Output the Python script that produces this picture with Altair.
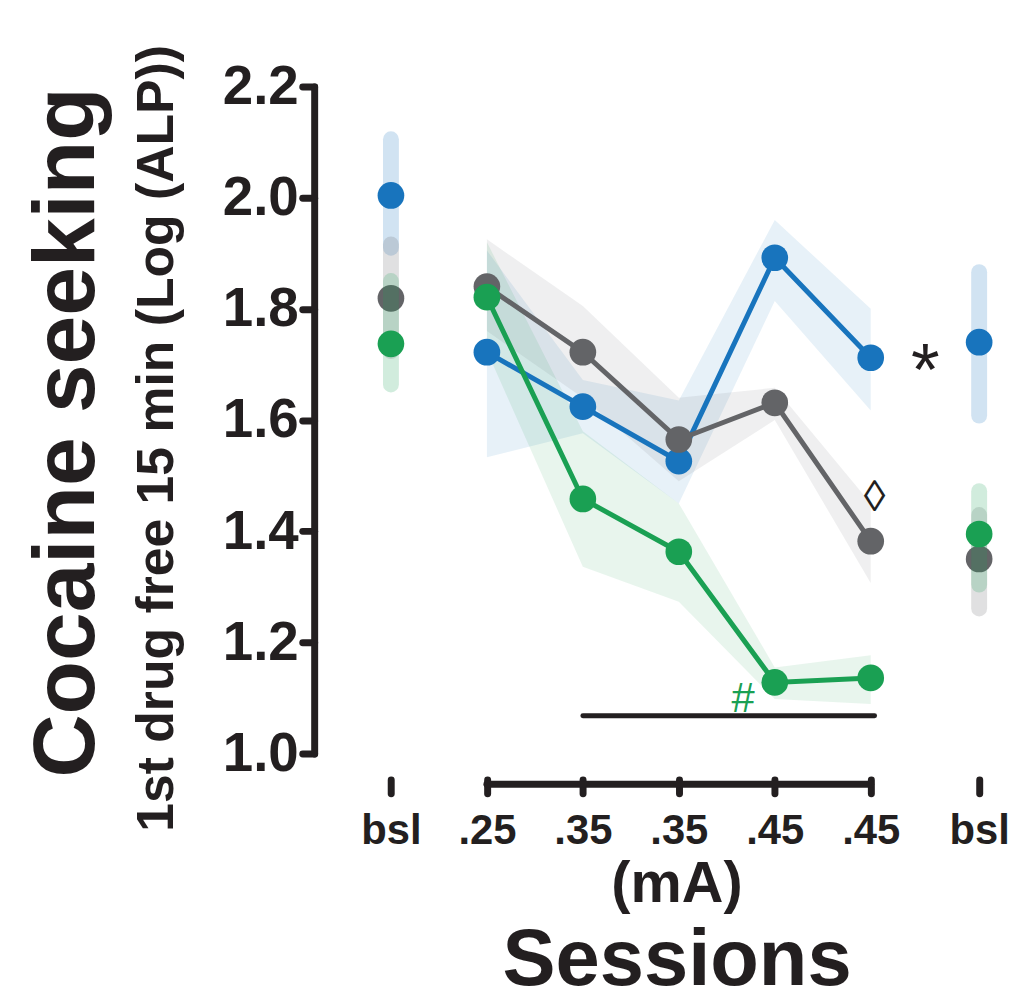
import json
import altair as alt
import pandas as pd

# ---------------- data ----------------
groups = ["blue", "gray", "green"]
line_colors = ["#1874bd", "#636467", "#1aa053"]

session_x = [1, 2, 3, 4, 5]
blue_mean = [1.722, 1.624, 1.526, 1.892, 1.712]
blue_lo = [1.533, 1.576, 1.450, 1.814, 1.617]
blue_hi = [1.905, 1.672, 1.635, 1.960, 1.800]

gray_mean = [1.840, 1.722, 1.565, 1.631, 1.382]
gray_lo = [1.760, 1.640, 1.490, 1.600, 1.307]
gray_hi = [1.925, 1.805, 1.640, 1.658, 1.450]

green_mean = [1.821, 1.458, 1.363, 1.128, 1.136]
green_lo = [1.724, 1.336, 1.273, 1.098, 1.089]
green_hi = [1.920, 1.580, 1.450, 1.155, 1.177]

bsl_x = [0, 6.13]
blue_bsl_mean = [2.004, 1.740]
blue_bsl_lo = [1.910, 1.608]
blue_bsl_hi = [2.105, 1.866]
gray_bsl_mean = [1.819, 1.350]
gray_bsl_lo = [1.724, 1.261]
gray_bsl_hi = [1.916, 1.429]
green_bsl_mean = [1.737, 1.395]
green_bsl_lo = [1.664, 1.304]
green_bsl_hi = [1.850, 1.472]

tick_values = [0, 1, 2, 3, 4, 5, 6.13]
tick_labels = ["bsl", ".25", ".35", ".35", ".45", ".45", "bsl"]
y_ticks = [1.0, 1.2, 1.4, 1.6, 1.8, 2.0, 2.2]

sig_x = [2]
sig_x2 = [5.04]
sig_y = [1.068]

annot_text = ["*", "\u25ca", "#"]
annot_x = [5.57, 5.04, 3.67]
annot_y = [1.684, 1.459, 1.098]
annot_color = ["#231f20", "#231f20", "#1aa053"]
annot_size = [74, 44, 42]

y_title = "Cocaine seeking"
y_subtitle = "1st drug free 15 min (Log (ALP))"
x_title = "Sessions"
x_subtitle = "(mA)"

# ---------------- scales / axes ----------------
FONT = "Liberation Sans"
INK = "#231f20"
W, H = 695, 671

label_expr = "{}[indexof({}, datum.value)]".format(json.dumps(tick_labels), json.dumps(tick_values))

x_axis = alt.Axis(values=tick_values, labelExpr=label_expr, domain=False, grid=False,
                  ticks=True, tickSize=14, tickWidth=7, tickColor=INK, tickCap="round",
                  offset=26, labelFont=FONT, labelFontSize=42, labelFontWeight="bold",
                  labelColor=INK, labelPadding=18, labelFlush=False, labelOverlap=False,
                  title=None)
y_axis = alt.Axis(values=y_ticks, format=".1f", domainWidth=7, domainColor=INK,
                  domainCap="round", tickSize=12, tickWidth=7, tickColor=INK,
                  tickCap="round", labelFont=FONT, labelFontSize=55,
                  labelFontWeight="bold", labelColor=INK, labelPadding=4, grid=False,
                  labelFlush=False, labelOverlap=False, title=None)
x_scale = alt.Scale(domain=[-0.8, 6.4], nice=False, zero=False)
y_scale = alt.Scale(domain=[1.0, 2.2], nice=False, zero=False)


def X(f="x"):
    return alt.X(f"{f}:Q", scale=x_scale, axis=x_axis)


def Y(f):
    return alt.Y(f"{f}:Q", scale=y_scale, axis=y_axis)


sess = {
    "blue": (blue_mean, blue_lo, blue_hi),
    "gray": (gray_mean, gray_lo, gray_hi),
    "green": (green_mean, green_lo, green_hi),
}
bsl = {
    "blue": (blue_bsl_mean, blue_bsl_lo, blue_bsl_hi),
    "gray": (gray_bsl_mean, gray_bsl_lo, gray_bsl_hi),
    "green": (green_bsl_mean, green_bsl_lo, green_bsl_hi),
}

layers = []
# shaded bands
for g, c in zip(groups, line_colors):
    m, lo, hi = sess[g]
    df = pd.DataFrame({"x": session_x, "mean": m, "lo": lo, "hi": hi})
    layers.append(alt.Chart(df).mark_area(color=c, opacity=0.1).encode(
        x=X(), y=Y("lo"), y2="hi"))

# bars, lines, points per group
for g, c in zip(groups, line_colors):
    m, lo, hi = sess[g]
    bm, blo, bhi = bsl[g]
    df = pd.DataFrame({"x": session_x, "mean": m})
    dfb = pd.DataFrame({"x": bsl_x, "mean": bm, "lo": blo, "hi": bhi})
    layers.append(alt.Chart(dfb).mark_rule(color=c, opacity=0.2, strokeWidth=16,
                                           strokeCap="round").encode(
        x=X(), y=Y("lo"), y2="hi"))
    layers.append(alt.Chart(df).mark_line(color=c, strokeWidth=5).encode(
        x=X(), y=Y("mean")))
    layers.append(alt.Chart(df).mark_circle(color=c, size=720, opacity=1).encode(
        x=X(), y=Y("mean")))
    layers.append(alt.Chart(dfb).mark_circle(color=c, size=720, opacity=1).encode(
        x=X(), y=Y("mean")))

# x axis line between .25 and .45
axis_df = pd.DataFrame({"x": [session_x[0]], "x2": [session_x[-1]]})
layers.append(alt.Chart(axis_df).mark_rule(color=INK, strokeWidth=7, strokeCap="round").encode(
    x=X(), x2="x2", y=alt.value(H + 31)))

# significance line
sig_df = pd.DataFrame({"x": sig_x, "x2": sig_x2, "y": sig_y})
layers.append(alt.Chart(sig_df).mark_rule(color=INK, strokeWidth=5, strokeCap="round").encode(
    x=X(), x2="x2", y=Y("y")))

# annotations
ann_df = pd.DataFrame({"x": annot_x, "y": annot_y, "t": annot_text,
                       "c": annot_color, "s": annot_size})
layers.append(alt.Chart(ann_df).mark_text(font=FONT, baseline="middle", align="center").encode(
    x=X(), y=Y("y"), text="t:N",
    color=alt.Color("c:N", scale=None),
    size=alt.Size("s:Q", scale=None)))

# titles
layers.append(alt.Chart(pd.DataFrame({"t": [y_title]})).mark_text(
    font=FONT, fontSize=88, fontWeight="bold", color=INK, angle=270,
    align="center", baseline="middle").encode(
    x=alt.value(-247), y=alt.value(348), text="t:N"))
layers.append(alt.Chart(pd.DataFrame({"t": [y_subtitle]})).mark_text(
    font=FONT, fontSize=52, fontWeight="bold", color=INK, angle=270,
    align="center", baseline="middle").encode(
    x=alt.value(-158), y=alt.value(354), text="t:N"))
layers.append(alt.Chart(pd.DataFrame({"t": [x_subtitle]})).mark_text(
    font=FONT, fontSize=58, fontWeight="bold", color=INK,
    align="center", baseline="alphabetic").encode(
    x=alt.value(365), y=alt.value(820), text="t:N"))
layers.append(alt.Chart(pd.DataFrame({"t": [x_title]})).mark_text(
    font=FONT, fontSize=80, fontWeight="bold", color=INK,
    align="center", baseline="alphabetic").encode(
    x=alt.value(365), y=alt.value(904), text="t:N"))

chart = alt.layer(*layers).properties(
    width=W, height=H,
    autosize=alt.AutoSizeParams(type="none"),
    padding={"left": 308, "top": 76, "right": 10, "bottom": 252},
    background="white",
).configure_view(stroke=None)

chart.save("out.html", embed_options={"renderer": "svg", "actions": False})
